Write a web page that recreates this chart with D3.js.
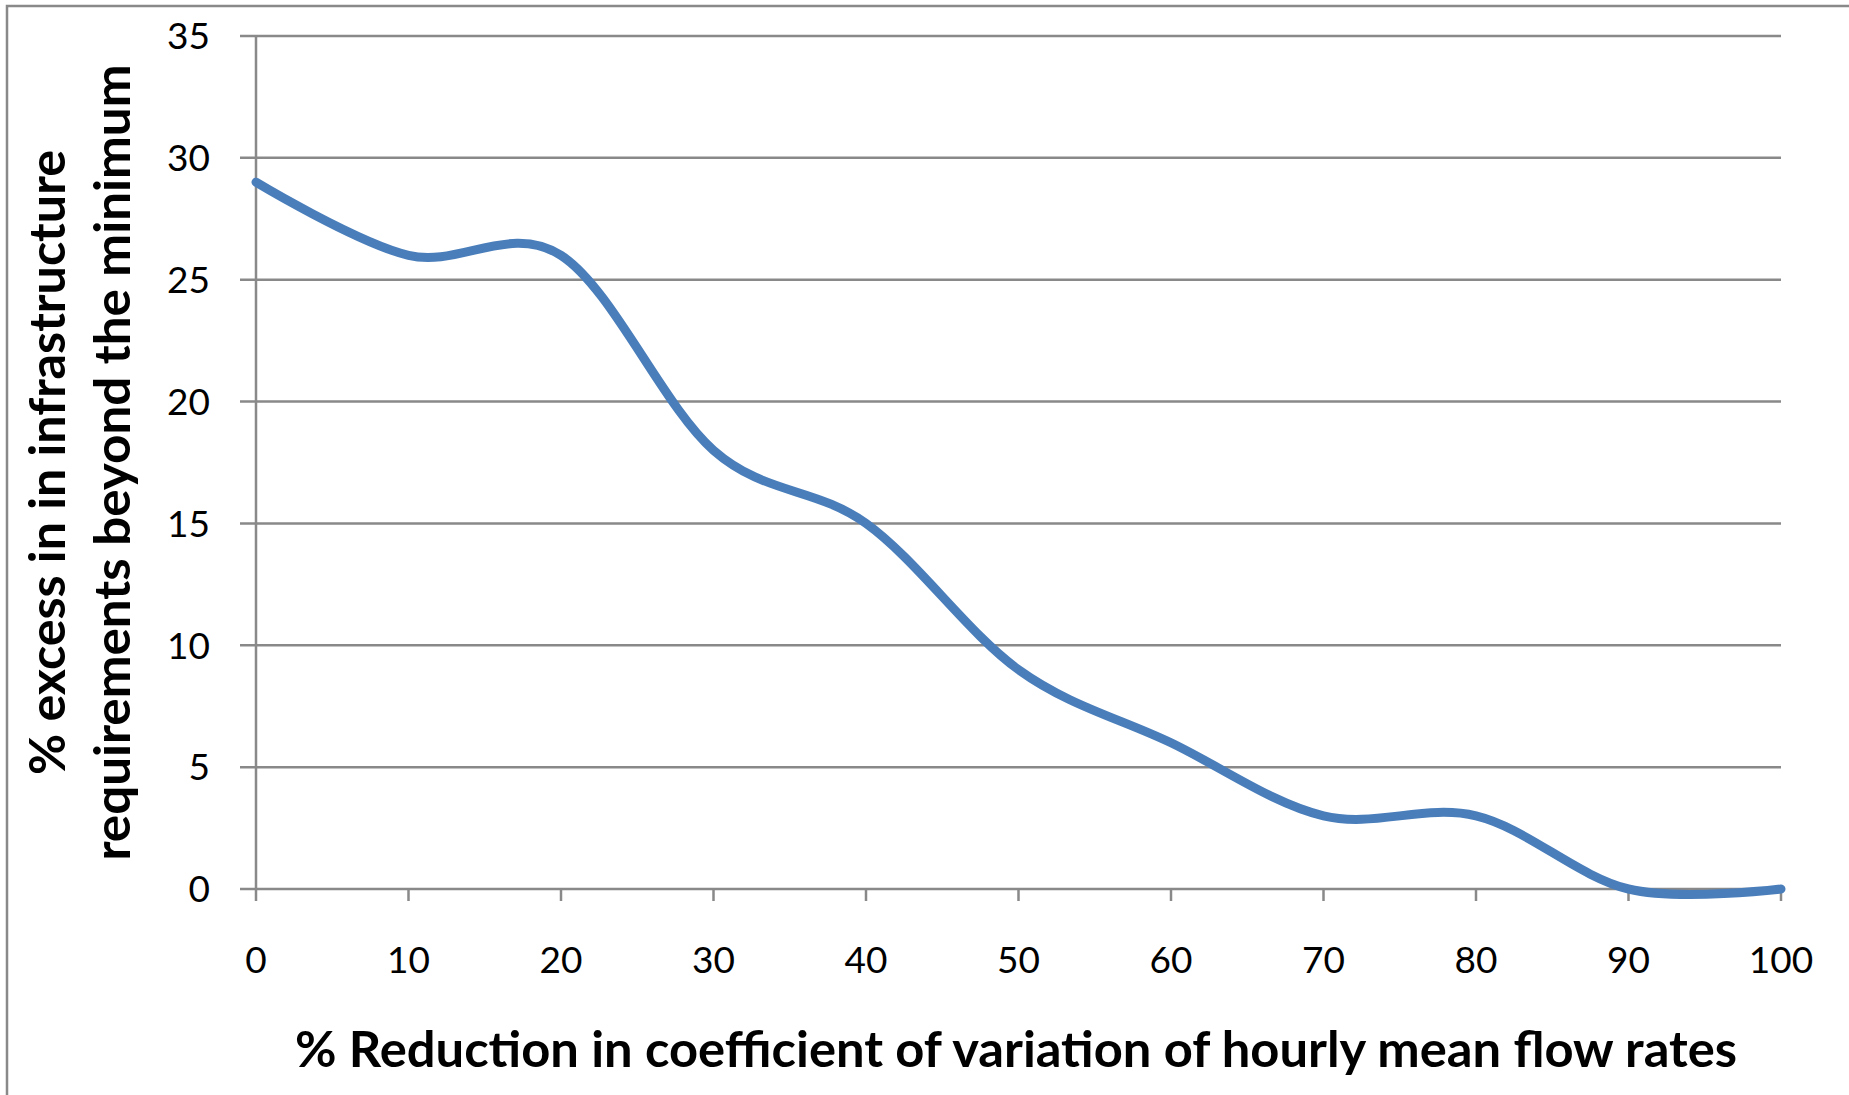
<!DOCTYPE html>
<html>
<head>
<meta charset="utf-8">
<script src="https://cdn.jsdelivr.net/npm/d3@7"></script>
<style>
    body { margin: 0; background: #fff; }
    text { font-family: Lato, Carlito, Calibri, "Open Sans", sans-serif; fill: #000; }
    .grid { stroke: #898989; stroke-width: 2.5; }
    .tick-label { font-size: 37px; }
    .axis-title { font-size: 50px; font-weight: bold; }
</style>
</head>
<body>
<svg id="chart"></svg>
<script>
// values
var reductionPct = [0, 10, 20, 30, 40, 50, 60, 70, 80, 90, 100];
var excessPct = [29, 26, 26, 18, 15, 9, 6, 3, 3, 0, 0];
var xTicks = [0, 10, 20, 30, 40, 50, 60, 70, 80, 90, 100];
var yTicks = [0, 5, 10, 15, 20, 25, 30, 35];
var xTitle = "% Reduction in coefficient of variation of hourly mean flow rates";
var yTitleLines = ["% excess in in infrastructure", "requirements beyond the minimum"];

var width = 1849,
    height = 1095;

// plot area
var margin = {top: 36, right: 68, bottom: 206, left: 256};

var svg = d3.select("#chart")
    .attr("width", width)
    .attr("height", height);

var x = d3.scaleLinear()
    .domain([0, 100])
    .range([margin.left, width - margin.right]);

var y = d3.scaleLinear()
    .domain([0, 35])
    .range([height - margin.bottom, margin.top]);

// outer chart border (cut off at right and bottom like the original)
svg.append("rect")
    .attr("x", 7)
    .attr("y", 6)
    .attr("width", width + 20)
    .attr("height", height + 20)
    .attr("fill", "none")
    .attr("stroke", "#898989")
    .attr("stroke-width", 2.5);

// horizontal gridlines + y ticks
svg.selectAll(".hgrid")
    .data(yTicks)
    .enter().append("line")
    .attr("class", "grid")
    .attr("x1", x(0) - 16)
    .attr("x2", x(100))
    .attr("y1", function(d) { return y(d); })
    .attr("y2", function(d) { return y(d); });

// vertical axis line
svg.append("line")
    .attr("class", "grid")
    .attr("x1", x(0))
    .attr("x2", x(0))
    .attr("y1", y(35))
    .attr("y2", y(0) + 12);

// x ticks
svg.selectAll(".xtick")
    .data(xTicks.slice(1))
    .enter().append("line")
    .attr("class", "grid")
    .attr("x1", function(d) { return x(d); })
    .attr("x2", function(d) { return x(d); })
    .attr("y1", y(0))
    .attr("y2", y(0) + 12);

// y tick labels
svg.selectAll(".ylabel")
    .data(yTicks)
    .enter().append("text")
    .attr("class", "tick-label")
    .attr("x", x(0) - 46)
    .attr("y", function(d) { return y(d); })
    .attr("dy", "0.36em")
    .style("text-anchor", "end")
    .text(function(d) { return d; });

// x tick labels
svg.selectAll(".xlabel")
    .data(xTicks)
    .enter().append("text")
    .attr("class", "tick-label")
    .attr("x", function(d) { return x(d); })
    .attr("y", 973)
    .style("text-anchor", "middle")
    .text(function(d) { return d; });

// smoothed line, like excel's "smoothed line" option
var line = d3.line()
    .x(function(d) { return x(d[0]); })
    .y(function(d) { return y(d[1]); })
    .curve(d3.curveCardinal.tension(0));

svg.append("path")
    .datum(d3.zip(reductionPct, excessPct))
    .attr("d", line)
    .attr("fill", "none")
    .attr("stroke", "#4a7ebb")
    .attr("stroke-width", 9)
    .attr("stroke-linecap", "round")
    .attr("stroke-linejoin", "round");

// axis titles
var midY = (y(0) + y(35)) / 2;

svg.append("text")
    .attr("class", "axis-title")
    .attr("x", 1016)
    .attr("y", 1067)
    .attr("textLength", 1442)
    .attr("lengthAdjust", "spacingAndGlyphs")
    .style("text-anchor", "middle")
    .text(xTitle);

var yLens = [625, 796];
var yBase = [65, 130];
svg.selectAll(".ytitle")
    .data(yTitleLines)
    .enter().append("text")
    .attr("class", "axis-title")
    .attr("transform", function(d, i) {
        return "translate(" + yBase[i] + "," + midY + ") rotate(-90)"; })
    .attr("textLength", function(d, i) { return yLens[i]; })
    .attr("lengthAdjust", "spacingAndGlyphs")
    .style("text-anchor", "middle")
    .text(function(d) { return d; });
</script>
</body>
</html>
